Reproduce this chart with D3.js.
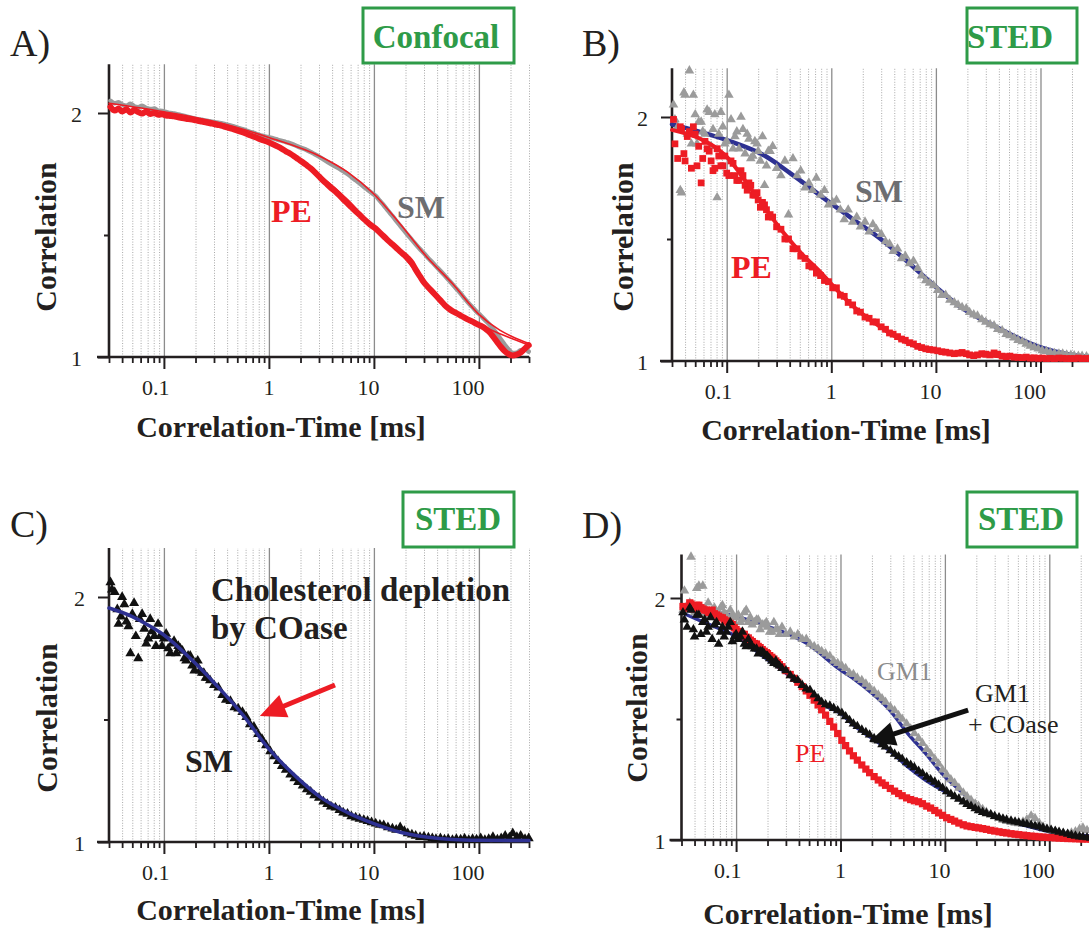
<!DOCTYPE html>
<html><head><meta charset="utf-8">
<script src="https://cdn.jsdelivr.net/npm/d3@7"></script>
<style>
body{margin:0;background:#fff}
svg{display:block}
text{font-family:"Liberation Serif","Times New Roman",serif}
</style>
</head><body>
<svg id="c" width="1089" height="933"></svg>
<script>
// ---------- DATA ----------
const lagTimes = [0.031,0.034,0.037,0.040,0.044,0.048,0.052,0.057,0.062,0.068,
0.074,0.081,0.088,0.096,0.105,0.115,0.125,0.137,0.15,0.163,
0.178,0.195,0.21,0.23,0.25,0.275,0.3,0.33,0.36,0.39,
0.43,0.47,0.51,0.56,0.61,0.66,0.72,0.79,0.86,0.94,
1.03,1.12,1.22,1.33,1.45,1.6,1.75,1.9,2.1,2.3,
2.5,2.7,3.0,3.3,3.6,3.9,4.3,4.7,5.1,5.6,
6.1,6.7,7.3,8.0,8.7,9.5,10.4,11.4,12.4,13.6,
15,16.3,17.8,19.5,21,23,25,27.5,30,33,
36,39,43,47,51,56,61,67,73,80,
87,95,104,114,124,136,150,163,178,195,
210,230,250,275,298];
// extra (second-run) points at short lag times, where scatter is large
const extraLagTimes = [0.032,0.036,0.039,0.042,0.046,0.050,0.054,0.059,0.065,0.071,
0.077,0.084,0.092,0.1,0.11,0.12,0.131,0.143,0.157,0.17,
0.186,0.2,0.22,0.24,0.26];

const xMajorTicks = [0.1, 1, 10, 100];
const xTickLabels = ["0.1", "1", "10", "100"];
const yMajorTicks = [1, 2];
const yTickLabels = ["1", "2"];
const yMinorTicks = [1.5];

// Panel A (confocal)
const confocalPE = [2.025,2.010,2.018,2.006,2.015,2.002,2.012,2.004,1.998,2.006,
1.996,2.000,1.993,1.995,1.990,1.988,1.986,1.982,1.979,1.976,
1.974,1.971,1.968,1.965,1.962,1.958,1.955,1.951,1.947,1.942,
1.937,1.932,1.927,1.921,1.915,1.909,1.903,1.896,1.890,1.884,
1.877,1.870,1.862,1.853,1.843,1.833,1.822,1.811,1.798,1.785,
1.773,1.760,1.740,1.722,1.707,1.693,1.678,1.662,1.646,1.630,
1.614,1.597,1.583,1.566,1.552,1.538,1.526,1.510,1.495,1.478,
1.462,1.448,1.432,1.418,1.405,1.385,1.358,1.330,1.305,1.285,
1.268,1.252,1.232,1.214,1.200,1.188,1.180,1.170,1.161,1.152,
1.145,1.136,1.128,1.118,1.105,1.085,1.060,1.040,1.022,1.010,
1.006,1.010,1.018,1.035,1.048];
const confocalSM = [2.050,2.040,2.044,2.035,2.030,2.038,2.028,2.024,2.030,2.020,
2.016,2.018,2.010,2.008,2.004,2.000,1.998,1.994,1.990,1.986,
1.982,1.978,1.975,1.972,1.969,1.966,1.963,1.960,1.957,1.953,
1.949,1.944,1.939,1.934,1.928,1.923,1.918,1.912,1.907,1.903,
1.899,1.895,1.890,1.886,1.881,1.876,1.869,1.862,1.855,1.848,
1.840,1.832,1.821,1.810,1.800,1.791,1.781,1.771,1.762,1.750,
1.738,1.724,1.712,1.698,1.686,1.673,1.660,1.640,1.622,1.600,
1.578,1.558,1.538,1.517,1.500,1.480,1.462,1.442,1.425,1.405,
1.388,1.372,1.353,1.335,1.318,1.298,1.280,1.260,1.240,1.220,
1.204,1.186,1.170,1.152,1.136,1.116,1.092,1.070,1.048,1.028,
1.016,1.018,1.028,1.030,1.022];
const fitTimesA = [0.03,0.1,0.316,1,3.16,5.62,10,17.8,31.6,56.2,100,158,224,300];
const fitConfocalSM = [2.04,2.005,1.963,1.90,1.82,1.758,1.668,1.545,1.412,1.30,1.175,1.11,1.077,1.055];
const fitConfocalPE = [2.02,1.992,1.955,1.88,1.74,1.645,1.53,1.425,1.30,1.19,1.135,1.095,1.07,1.048];

// Panel B (STED)
const stedSM = [2.05,1.96,1.69,2.09,2.19,2.09,1.89,1.98,1.93,2.02,
1.95,1.67,2.02,1.89,2.09,1.87,1.94,2.00,1.85,1.91,
1.84,1.89,1.82,1.72,1.86,1.88,1.79,1.76,1.82,1.60,
1.83,1.76,1.78,1.71,1.73,1.70,1.75,1.68,1.70,1.64,
1.65,1.66,1.62,1.58,1.62,1.57,1.59,1.55,1.57,1.53,
1.56,1.54,1.52,1.49,1.48,1.45,1.46,1.42,1.43,1.40,
1.41,1.38,1.35,1.33,1.32,1.31,1.29,1.27,1.27,1.25,
1.24,1.23,1.22,1.215,1.20,1.19,1.185,1.17,1.16,1.15,
1.145,1.13,1.125,1.11,1.105,1.095,1.085,1.08,1.07,1.062,
1.055,1.05,1.043,1.04,1.035,1.032,1.03,1.03,1.025,1.024,
1.022,1.02,1.02,1.018,1.018];
const stedSMExtra = [1.99,1.70,2.10,1.93,1.89,2.01,1.98,1.94,2.03,1.88,
2.01,1.93,1.96,1.90,1.99,1.92,1.87,1.95,1.93,1.83,
1.90,1.86,1.92,1.80,1.86];
const stedPE = [1.99,1.83,1.95,1.82,1.94,1.96,1.80,1.73,1.90,1.86,
1.78,1.87,1.80,1.84,1.76,1.81,1.74,1.78,1.72,1.73,
1.68,1.69,1.63,1.64,1.59,1.59,1.55,1.54,1.50,1.50,
1.46,1.46,1.43,1.42,1.39,1.385,1.36,1.35,1.33,1.325,
1.30,1.30,1.27,1.265,1.24,1.23,1.205,1.20,1.18,1.175,
1.16,1.16,1.14,1.13,1.115,1.11,1.10,1.09,1.085,1.075,
1.07,1.06,1.055,1.05,1.047,1.045,1.042,1.038,1.036,1.033,
1.03,1.032,1.035,1.03,1.025,1.022,1.025,1.03,1.028,1.025,
1.033,1.028,1.02,1.018,1.02,1.016,1.015,1.014,1.016,1.012,
1.013,1.011,1.012,1.01,1.011,1.01,1.012,1.011,1.01,1.01,
1.01,1.012,1.01,1.01,1.01];
const stedPEExtra = [1.89,1.96,1.85,1.92,1.79,1.93,1.88,1.83,1.87,1.82,
1.79,1.84,1.80,1.77,1.82,1.76,1.74,1.76,1.70,1.72,
1.68,1.66,1.65,1.62,1.60];
const fitTimesBSM = [0.03,0.1,0.24,0.41,1,1.66,3.07,5.2,10,16.5,35.5,100,192,300];
const fitStedSM = [1.97,1.905,1.837,1.768,1.645,1.577,1.495,1.412,1.303,1.227,1.145,1.056,1.026,1.017];
const fitTimesBPE = [0.03,0.1,0.165,0.24,0.355,0.52,0.76,1,1.66,2.4,3.5,5.2,7.6,10,16.5,35.5,100,300];
const fitStedPE = [1.947,1.837,1.714,1.618,1.522,1.44,1.371,1.316,1.22,1.166,1.118,1.077,1.049,1.040,1.029,1.022,1.012,1.011];

// Panel C (STED, cholesterol depletion)
const coaseSM = [2.06,2.02,1.89,2.00,1.90,1.77,1.975,1.75,1.93,1.81,
1.91,1.84,1.89,1.80,1.85,1.77,1.82,1.80,1.78,1.74,
1.76,1.70,1.74,1.69,1.67,1.66,1.64,1.63,1.60,1.58,
1.575,1.55,1.545,1.53,1.51,1.48,1.47,1.44,1.42,1.395,
1.37,1.35,1.33,1.31,1.295,1.275,1.26,1.245,1.23,1.215,
1.205,1.19,1.18,1.165,1.155,1.145,1.14,1.13,1.12,1.115,
1.105,1.10,1.095,1.09,1.085,1.08,1.075,1.07,1.068,1.06,
1.055,1.05,1.06,1.045,1.035,1.03,1.025,1.02,1.022,1.018,
1.015,1.012,1.015,1.01,1.012,1.008,1.012,1.01,1.014,1.008,
1.012,1.01,1.015,1.008,1.012,1.02,1.01,1.015,1.025,1.018,
1.035,1.02,1.025,1.012,1.015];
const coaseSMExtra = [2.03,1.95,1.92,1.97,1.88,1.93,1.84,1.91,1.87,1.83,
1.86,1.80,1.84,1.83,1.79,1.81,1.77,1.79,1.75,1.76,
1.72,1.73,1.70,1.69,1.67];
const fitTimesC = [0.03,0.05,0.071,0.1,0.178,0.316,0.562,1,1.78,3.16,5.62,10,17.8,31.6,56.2,100,300];
const fitCoaseSM = [1.955,1.92,1.885,1.845,1.75,1.64,1.52,1.38,1.27,1.18,1.12,1.075,1.04,1.02,1.01,1.007,1.006];

// Panel D (STED, GM1)
const stedGM1 = [1.95,1.97,2.17,1.94,2.05,2.05,1.95,1.93,1.96,1.94,
1.97,1.93,1.95,1.92,1.93,1.91,1.95,1.92,1.90,1.91,
1.89,1.90,1.86,1.90,1.87,1.88,1.85,1.86,1.84,1.85,
1.83,1.83,1.81,1.80,1.79,1.78,1.77,1.76,1.74,1.73,
1.72,1.71,1.69,1.685,1.67,1.66,1.645,1.63,1.615,1.60,
1.585,1.57,1.55,1.535,1.515,1.50,1.48,1.46,1.44,1.42,
1.40,1.375,1.355,1.335,1.315,1.29,1.27,1.25,1.235,1.215,
1.195,1.18,1.165,1.15,1.14,1.127,1.115,1.105,1.097,1.09,
1.083,1.078,1.073,1.07,1.068,1.075,1.085,1.10,1.09,1.07,
1.055,1.045,1.04,1.035,1.03,1.028,1.025,1.03,1.035,1.045,
1.05,1.04,1.045,1.05,1.045];
const stedGM1Extra = [2.03,1.98,1.95,2.04,1.96,1.93,1.98,1.95,1.92,1.96,
1.94,1.91,1.93,1.92,1.90,1.94,1.90,1.89,1.91,1.87,
1.89,1.88,1.86,1.87,1.85];
const stedGM1Coase = [1.94,1.88,1.95,1.84,1.93,1.90,1.86,1.92,1.89,1.81,
1.88,1.86,1.90,1.84,1.83,1.86,1.80,1.81,1.79,1.77,
1.78,1.76,1.75,1.73,1.725,1.71,1.70,1.68,1.665,1.66,
1.64,1.625,1.62,1.60,1.585,1.57,1.56,1.555,1.545,1.535,
1.525,1.51,1.495,1.48,1.47,1.455,1.445,1.435,1.42,1.41,
1.395,1.385,1.37,1.355,1.345,1.335,1.32,1.31,1.30,1.285,
1.275,1.26,1.25,1.24,1.228,1.215,1.20,1.19,1.18,1.17,
1.158,1.148,1.14,1.13,1.122,1.115,1.11,1.105,1.098,1.093,
1.088,1.083,1.079,1.075,1.072,1.068,1.065,1.062,1.058,1.055,
1.05,1.045,1.041,1.037,1.033,1.029,1.025,1.02,1.017,1.014,
1.012,1.01,1.008,1.007,1.006];
const stedGM1CoaseExtra = [1.91,1.96,1.87,1.93,1.85,1.91,1.88,1.83,1.90,1.86,
1.84,1.88,1.82,1.85,1.84,1.81,1.83,1.80,1.79,1.78,
1.77,1.76,1.74,1.74,1.72];
const stedPE_D = [1.965,1.958,1.975,1.962,1.97,1.955,1.95,1.945,1.935,1.925,
1.918,1.905,1.895,1.878,1.862,1.85,1.838,1.826,1.812,1.80,
1.787,1.774,1.762,1.748,1.733,1.716,1.70,1.684,1.668,1.652,
1.634,1.616,1.598,1.578,1.558,1.538,1.516,1.49,1.467,1.44,
1.412,1.39,1.368,1.348,1.33,1.31,1.293,1.278,1.262,1.248,
1.236,1.226,1.213,1.202,1.192,1.183,1.174,1.167,1.162,1.158,
1.15,1.14,1.132,1.122,1.112,1.102,1.092,1.085,1.078,1.07,
1.063,1.058,1.055,1.052,1.05,1.047,1.044,1.04,1.037,1.034,
1.031,1.029,1.026,1.024,1.022,1.02,1.018,1.016,1.015,1.013,
1.012,1.011,1.01,1.009,1.008,1.007,1.006,1.006,1.005,1.005,
1.004,1.004,1.004,1.003,1.003];
const stedPE_DExtra = [1.96,1.98,1.955,1.97,1.96,1.95,1.94,1.95,1.93,1.92,
1.91,1.90,1.89,1.87,1.86,1.85,1.835,1.82,1.81,1.795,
1.78,1.77,1.755,1.74,1.725];
const fitTimesDGM1 = [0.03,0.1,0.2,0.3,0.47,1,1.38,2,2.95,4.4,6.5,10,13.8,20.4,30,65,100,141,300];
const fitStedGM1 = [1.96,1.924,1.883,1.855,1.814,1.703,1.662,1.607,1.538,1.441,1.359,1.262,1.207,1.145,1.097,1.055,1.034,1.025,1.015];
const fitTimesDCoase = [0.03,0.05,0.1,0.2,0.3,0.5,0.74,1,1.38,2,3,4.4,6.5,10,13.8,20.4,30,44,65,100,143,193,300];
const fitStedGM1Coase = [1.94,1.898,1.841,1.745,1.69,1.607,1.552,1.524,1.469,1.421,1.366,1.303,1.248,1.2,1.166,1.124,1.097,1.076,1.062,1.041,1.028,1.014,1.007];

// ---------- STYLE ----------
const C = {
  red: "#ed1c24", gray: "#9b9b9b", darkgray: "#6d6e71", blue: "#2e3192",
  black: "#111111", ink: "#231f20", green: "#2e9b48"
};
const svg = d3.select("#c");

const layout = {
  A: {x0:109, dec:105, y1:357, y2:113, yTop:2.2, ylab:27, letter:"A)", lx:10, ly:56,
      xt:[281,437], yt:[56,237], box:[363,8,151,55], boxText:"Confocal", bt:[436,48]},
  B: {x0:672, dec:104.6, y1:361, y2:117, yTop:2.2, ylab:24, letter:"B)", lx:582, ly:56,
      xt:[846,440], yt:[633,237], box:[967,8,110,55], boxText:"STED", bt:[1010,48]},
  C: {x0:109, dec:105, y1:842, y2:597, yTop:2.2, ylab:24, letter:"C)", lx:10, ly:537,
      xt:[281,920], yt:[57,718], box:[403,492,111,55], boxText:"STED", bt:[458,530]},
  D: {x0:681.5, dec:104.4, y1:840, y2:598, yTop:2.18, ylab:16, letter:"D)", lx:582, ly:538,
      xt:[848,924], yt:[647,708], box:[967,492,110,55], boxText:"STED", bt:[1021,530]}
};

const minorX = [];
[0.01,0.1,1,10,100].forEach(d => { for (let k=2;k<=9;k++){ const v=+(k*d).toPrecision(3); if (v>=0.03 && v<=300) minorX.push(v);} });

function panel(L) {
  const g = svg.append("g");
  const x = d3.scaleLog().domain([0.03,300]).range([L.x0, L.x0 + 4*L.dec]);
  const y = d3.scaleLinear().domain([1,2]).range([L.y1, L.y2]);
  const top = y(L.yTop), xEnd = x.range()[1];

  g.append("g").attr("transform",`translate(0,${L.y1})`)
    .call(d3.axisBottom(x).tickValues(minorX.filter(v=>v>0.031)).tickSize(-(L.y1-top)).tickFormat(""))
    .call(s=>s.select(".domain").remove())
    .call(s=>s.selectAll("line").attr("stroke","#a8a8a8").attr("stroke-width",1).attr("stroke-dasharray","1,1.6"));
  g.append("g").attr("transform",`translate(0,${L.y1})`)
    .call(d3.axisBottom(x).tickValues(xMajorTicks).tickSize(-(L.y1-top)).tickFormat(""))
    .call(s=>s.select(".domain").remove())
    .call(s=>s.selectAll("line").attr("stroke","#8c8c8c").attr("stroke-width",1.3));

  g.append("g").attr("transform",`translate(0,${L.y1})`)
    .call(d3.axisBottom(x).tickValues(minorX).tickSize(6).tickFormat(""))
    .call(s=>s.select(".domain").remove())
    .call(s=>s.selectAll("line").attr("stroke",C.ink).attr("stroke-width",1.8));
  g.append("g").attr("transform",`translate(0,${L.y1})`)
    .call(d3.axisBottom(x).tickValues(xMajorTicks).tickSize(12).tickFormat((d,i)=>xTickLabels[i]))
    .call(s=>s.select(".domain").remove())
    .call(s=>s.attr("font-family",null).attr("font-size",null))
    .call(s=>s.selectAll("line").attr("stroke",C.ink).attr("stroke-width",2))
    .call(s=>s.selectAll("text").attr("y",38).attr("dy",null).attr("x",5)
      .attr("text-anchor","end").attr("fill",C.ink).style("font-size","22px"));

  g.append("g").attr("transform",`translate(${L.x0},0)`)
    .call(d3.axisLeft(y).tickValues(yMinorTicks).tickSize(5).tickFormat(""))
    .call(s=>s.select(".domain").remove())
    .call(s=>s.selectAll("line").attr("stroke",C.ink).attr("stroke-width",2));
  g.append("g").attr("transform",`translate(${L.x0},0)`)
    .call(d3.axisLeft(y).tickValues(yMajorTicks).tickSize(11).tickFormat((d,i)=>yTickLabels[i]))
    .call(s=>s.select(".domain").remove())
    .call(s=>s.attr("font-family",null).attr("font-size",null))
    .call(s=>s.selectAll("line").attr("stroke",C.ink).attr("stroke-width",2))
    .call(s=>s.selectAll("text").attr("x",-L.ylab).attr("dy",null).attr("y",8)
      .attr("text-anchor","end").attr("fill",C.ink).style("font-size","22px"));

  g.append("line").attr("x1",L.x0).attr("x2",L.x0).attr("y1",top).attr("y2",L.y1+1)
    .attr("stroke",C.ink).attr("stroke-width",2.6);
  g.append("line").attr("x1",L.x0-12).attr("x2",xEnd).attr("y1",L.y1).attr("y2",L.y1)
    .attr("stroke",C.ink).attr("stroke-width",2.6);

  g.append("text").attr("x",L.xt[0]).attr("y",L.xt[1]).attr("text-anchor","middle")
    .attr("font-weight",700).style("font-size","30px").attr("fill",C.ink).text("Correlation-Time [ms]");
  g.append("text").attr("transform",`translate(${L.yt[0]},${L.yt[1]}) rotate(-90)`).attr("text-anchor","middle")
    .attr("font-weight",700).style("font-size","30px").attr("fill",C.ink).text("Correlation");
  g.append("text").attr("x",L.lx).attr("y",L.ly).style("font-size","38px").attr("fill",C.ink).text(L.letter);

  g.append("rect").attr("x",L.box[0]).attr("y",L.box[1]).attr("width",L.box[2]).attr("height",L.box[3])
    .attr("fill","none").attr("stroke",C.green).attr("stroke-width",3);
  g.append("text").attr("x",L.bt[0]).attr("y",L.bt[1]).attr("text-anchor","middle")
    .attr("font-weight",700).style("font-size","33px").attr("fill",C.green).text(L.boxText);

  return {g, x, y};
}

function lineSeries(P, times, vals, color, w) {
  const line = d3.line().x(d=>P.x(d[0])).y(d=>P.y(d[1])).curve(d3.curveMonotoneX);
  P.g.append("path").datum(d3.zip(times, vals)).attr("d", line)
    .attr("fill","none").attr("stroke",color).attr("stroke-width",w)
    .attr("stroke-linejoin","round").attr("stroke-linecap","round");
}
function markerSeries(P, times, vals, color, type, size) {
  const sym = d3.symbol().type(type).size(size);
  P.g.append("g").selectAll("path").data(d3.zip(times, vals)).join("path")
    .attr("transform", d=>`translate(${P.x(d[0])},${P.y(d[1])})`)
    .attr("d", sym).attr("fill", color);
}
function arrow(g, x1,y1,x2,y2,color,w,hl,hw){
  const dx=x2-x1, dy=y2-y1, len=Math.hypot(dx,dy), ux=dx/len, uy=dy/len;
  const bx=x2-ux*hl, by=y2-uy*hl;
  g.append("line").attr("x1",x1).attr("y1",y1).attr("x2",bx+ux*3).attr("y2",by+uy*3)
    .attr("stroke",color).attr("stroke-width",w);
  g.append("path").attr("d",`M${x2},${y2}L${bx-uy*hw},${by+ux*hw}L${bx+uy*hw},${by-ux*hw}Z`).attr("fill",color);
}
function label(g, x, y, txt, color, size, bold) {
  g.append("text").attr("x",x).attr("y",y).style("font-size",size+"px")
    .attr("font-weight", bold?700:400).attr("fill",color).text(txt);
}

const TRI = d3.symbolTriangle, SQ = d3.symbolSquare;

// ---------- Panel A ----------
const PA = panel(layout.A);
lineSeries(PA, lagTimes, confocalSM, C.gray, 4.5);
lineSeries(PA, lagTimes, confocalPE, C.red, 6);
lineSeries(PA, fitTimesA, fitConfocalSM, C.red, 1.6);
lineSeries(PA, fitTimesA, fitConfocalPE, C.red, 1.6);
label(PA.g, 271, 222, "PE", C.red, 32, true);
label(PA.g, 397, 218, "SM", C.darkgray, 32, true);

// ---------- Panel B ----------
const PB = panel(layout.B);
lineSeries(PB, fitTimesBSM, fitStedSM, C.blue, 4.5);
markerSeries(PB, lagTimes, stedSM, C.gray, TRI, 40);
markerSeries(PB, extraLagTimes, stedSMExtra, C.gray, TRI, 40);
lineSeries(PB, fitTimesBPE, fitStedPE, C.red, 4);
markerSeries(PB, lagTimes, stedPE, C.red, SQ, 46);
markerSeries(PB, extraLagTimes, stedPEExtra, C.red, SQ, 46);
label(PB.g, 855, 202, "SM", C.darkgray, 32, true);
label(PB.g, 731, 278, "PE", C.red, 32, true);

// ---------- Panel C ----------
const PC = panel(layout.C);
markerSeries(PC, lagTimes, coaseSM, C.black, TRI, 44);
markerSeries(PC, extraLagTimes, coaseSMExtra, C.black, TRI, 44);
lineSeries(PC, fitTimesC, fitCoaseSM, C.blue, 3.5);
label(PC.g, 211, 601, "Cholesterol depletion", C.ink, 33, true);
label(PC.g, 211, 639, "by COase", C.ink, 33, true);
label(PC.g, 185, 772, "SM", C.ink, 32, true);
arrow(PC.g, PC.x(4.26), PC.y(1.641), PC.x(0.82), PC.y(1.514), C.red, 5, 26, 12);

// ---------- Panel D ----------
const PD = panel(layout.D);
lineSeries(PD, fitTimesDGM1, fitStedGM1, C.blue, 3.5);
lineSeries(PD, fitTimesDCoase, fitStedGM1Coase, C.blue, 3.5);
markerSeries(PD, lagTimes, stedGM1, C.gray, TRI, 40);
markerSeries(PD, extraLagTimes, stedGM1Extra, C.gray, TRI, 40);
markerSeries(PD, lagTimes, stedPE_D, C.red, SQ, 52);
markerSeries(PD, extraLagTimes, stedPE_DExtra, C.red, SQ, 52);
markerSeries(PD, lagTimes, stedGM1Coase, C.black, TRI, 40);
markerSeries(PD, extraLagTimes, stedGM1CoaseExtra, C.black, TRI, 40);
label(PD.g, 877, 680, "GM1", "#8c8c8c", 26, false);
label(PD.g, 975, 702, "GM1", C.ink, 26, false);
label(PD.g, 968, 733, "+ COase", C.ink, 26, false);
label(PD.g, 795, 762, "PE", C.red, 26, false);
arrow(PD.g, PD.x(16.7), PD.y(1.537), PD.x(1.88), PD.y(1.405), C.black, 5, 26, 12);
</script>
</body></html>
